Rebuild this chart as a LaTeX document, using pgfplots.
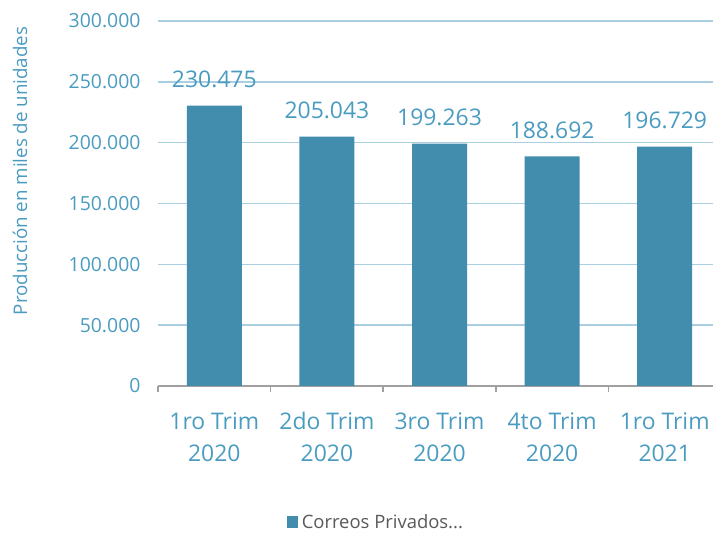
\documentclass[border=0pt]{standalone}
\usepackage{pgfplots}
\pgfplotsset{compat=1.18}
\usepackage{fontspec}
\setmainfont{Open Sans}
\definecolor{barc}{RGB}{66,141,173}
\definecolor{txtc}{RGB}{74,155,192}
\definecolor{gridc}{RGB}{170,207,226}
\definecolor{axc}{RGB}{160,160,160}
\definecolor{legc}{RGB}{89,89,89}
\begin{document}
\begin{tikzpicture}[x=1bp,y=1bp]
\useasboundingbox (0,0) rectangle (713,534);
\clip (0,0) rectangle (713,534);
\begin{axis}[
  at={(158bp,148bp)}, anchor=south west,
  scale only axis, width=563bp, height=365bp,
  xmin=-0.5, xmax=4.5, ymin=0, ymax=300000,
  ytick={0,50000,100000,150000,200000,250000,300000},
  yticklabels={0,50.000,100.000,150.000,200.000,250.000,300.000},
  xtick={0,1,2,3,4},
  xticklabels={\strut 1ro Trim\\\strut 2020,\strut 2do Trim\\\strut 2020,\strut 3ro Trim\\\strut 2020,\strut 4to Trim\\\strut 2020,\strut 1ro Trim\\\strut 2021},
  minor xtick={-0.5,0.5,1.5,2.5,3.5,4.5},
  axis x line*=bottom,
  x axis line style={draw=axc, line width=1.5bp, -},
  y axis line style={draw=none},
  tick align=outside,
  major tick length=0pt,
  minor tick length=6bp,
  minor x tick style={draw=axc, line width=1.5bp},
  ytick style={draw=none},
  ymajorgrids,
  grid style={draw=gridc, line width=1.5bp},
  scaled y ticks=false,
  yticklabel style={font=\fontsize{19.5}{21}\selectfont, text=txtc, anchor=east, xshift=-14bp},
  xticklabel style={font=\fontsize{23}{32}\selectfont, text=txtc, align=center, anchor=north, inner sep=0pt, yshift=-21bp},
  ylabel={Producción en miles de unidades},
  ylabel style={font=\fontsize{18.8}{20}\selectfont, text=txtc, at={(-138bp,215bp)}, anchor=center, rotate=0},
  point meta=explicit symbolic,
  nodes near coords,
  nodes near coords style={font=\fontsize{23}{25}\selectfont, text=txtc, anchor=base, yshift=18bp},
  legend style={draw=none, fill=none, font=\fontsize{18.5}{20}\selectfont, text=legc, at={(0.387,-0.372)}, anchor=center, inner sep=0pt},
  legend image code/.code={\fill[barc] (0bp,-6bp) rectangle (11bp,6bp);},
  clip=false,
]
\addplot[ybar, bar width=55bp, fill=barc, draw=none] coordinates {(0,230475)[230.475] (1,205043)[205.043] (2,199263)[199.263] (3,188692)[188.692] (4,196729)[196.729]};
\addlegendentry{\hspace{2bp}Correos Privados...}
\end{axis}
\end{tikzpicture}
\end{document}
